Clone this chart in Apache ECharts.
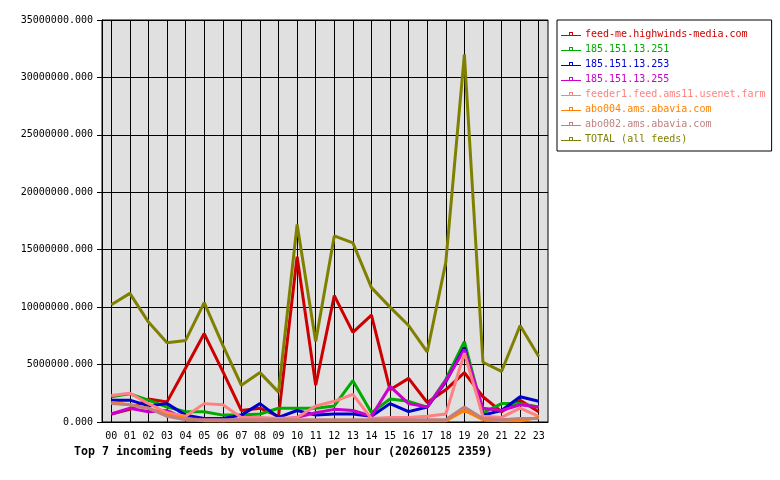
<!DOCTYPE html>
<html lang="en">
<head>
    <meta charset="UTF-8">
    <title>Top 7 incoming feeds</title>
    <script src="https://cdn.jsdelivr.net/npm/echarts@6/dist/echarts.min.js"></script>
    <style>
        body { margin:0; background:#fff; }
    </style>
</head>
<body>
    <div id="ec" style="width:780px;height:480px"></div>
<script>
    // hours on the x axis
    var hours = ['00','01','02','03','04','05','06','07','08','09','10','11',
                 '12','13','14','15','16','17','18','19','20','21','22','23']

    var feedNames = ['feed-me.highwinds-media.com','185.151.13.251','185.151.13.253','185.151.13.255',
                     'feeder1.feed.ams11.usenet.farm','abo004.ams.abavia.com','abo002.ams.abavia.com','TOTAL (all feeds)']
    var feedColors = ['#cc0000','#00aa00','#0000cc','#cc00cc','#ff8080','#ff8000','#c08080','#808000']

    // values in KB
    var highwinds = [700000,1100000,2000000,1750000,4700000,7700000,4400000,1000000,1200000,500000,14400000,3200000,
                     11000000,7800000,9300000,2800000,3800000,1700000,2800000,4300000,2200000,900000,1900000,900000]
    var ip251 = [2200000,2450000,1900000,1300000,900000,900000,600000,600000,700000,1200000,1200000,1200000,
                 1400000,3600000,800000,2000000,1800000,1300000,3700000,7000000,800000,1600000,1600000,1300000]
    var ip253 = [1900000,1900000,1400000,1600000,600000,300000,300000,600000,1600000,400000,1000000,600000,
                 700000,700000,500000,1600000,900000,1300000,3500000,6500000,600000,1000000,2200000,1800000]
    var ip255 = [700000,1200000,900000,1000000,300000,200000,100000,200000,100000,200000,400000,800000,
                 1100000,1000000,500000,3100000,1600000,1300000,3600000,6300000,1200000,1000000,1500000,1300000]
    var feeder1 = [2300000,2500000,1600000,800000,500000,1600000,1500000,400000,400000,300000,400000,1400000,
                   1800000,2400000,300000,400000,400000,500000,700000,6000000,500000,400000,1200000,500000]
    var abo004 = [1700000,1500000,1200000,600000,300000,100000,100000,100000,100000,100000,100000,100000,
                  100000,100000,100000,100000,100000,100000,100000,1000000,200000,100000,100000,400000]
    var abo002 = [1600000,1500000,1200000,500000,200000,200000,200000,200000,200000,200000,200000,200000,
                  200000,200000,200000,200000,200000,200000,200000,1300000,300000,200000,300000,300000]
    var total = [10200000,11200000,8700000,6900000,7100000,10400000,6700000,3200000,4300000,2600000,17200000,7000000,
                 16200000,15600000,11700000,10000000,8400000,6100000,13900000,32000000,5200000,4400000,8400000,5700000]

    var feedData = [highwinds, ip251, ip253, ip255, feeder1, abo004, abo002, total]

    var mono = 'DejaVu Sans Mono'
    var legendIcon = 'path://M0,6h20v1h-20z M8,3h4v1h-4z M8,3h1v3h-1z M11,3h1v3h-1z'

    var ech = document.getElementById('ec')
    var mychart = echarts.init(ech)

    var series = feedNames.map(function (name, i) {
        return {
            name: name,
            type: 'line',
            data: feedData[i],
            showSymbol: false,
            symbol: 'none',
            lineStyle: { width: 3, color: feedColors[i] },
            itemStyle: { color: feedColors[i] },
            emphasis: { disabled: true },
            animation: false
        }
    })

    var options = {
        backgroundColor: '#fff',
        animation: false,
        title: {
            text: 'Top 7 incoming feeds by volume (KB) per hour (20260125 2359)',
            left: 74,
            top: 446,
            padding: 0,
            textStyle: { fontFamily: mono, fontWeight: 'bold', fontSize: 11.6, color: '#000' }
        },
        legend: {
            orient: 'vertical',
            left: 557,
            top: 20,
            padding: [8, 6, 6, 4],
            itemGap: 3,
            itemWidth: 20,
            itemHeight: 7,
            icon: legendIcon,
            borderColor: '#000',
            borderWidth: 1,
            data: feedNames.map(function (n, i) {
                return { name: n, textStyle: { color: feedColors[i] } }
            }),
            textStyle: { fontFamily: mono, fontSize: 10, lineHeight: 12, padding: [0, 0, 0, -1] }
        },
        grid: {
            left: 102,
            top: 20,
            right: 232,
            bottom: 58,
            show: true,
            backgroundColor: '#e0e0e0',
            borderColor: '#000',
            borderWidth: 1
        },
        xAxis: {
            type: 'category',
            data: hours,
            boundaryGap: true,
            axisLine: { lineStyle: { color: '#000', width: 1 } },
            axisTick: { show: false },
            axisLabel: { color: '#000', fontFamily: mono, fontSize: 10, margin: 9, interval: 0 },
            splitLine: { show: true, alignWithLabel: true, interval: 0, lineStyle: { color: '#000', width: 1 } }
        },
        yAxis: {
            type: 'value',
            min: 0,
            max: 35000000,
            interval: 5000000,
            axisLine: { show: true, lineStyle: { color: '#000', width: 1 } },
            axisTick: { show: true, length: 5, lineStyle: { color: '#000' } },
            axisLabel: {
                color: '#000', fontFamily: mono, fontSize: 10, margin: 9,
                formatter: function (v) { return v.toFixed(3) }
            },
            splitLine: { show: true, lineStyle: { color: '#000', width: 1 } }
        },
        series: series
    }
    mychart.setOption(options)
</script>
</body>
</html>
